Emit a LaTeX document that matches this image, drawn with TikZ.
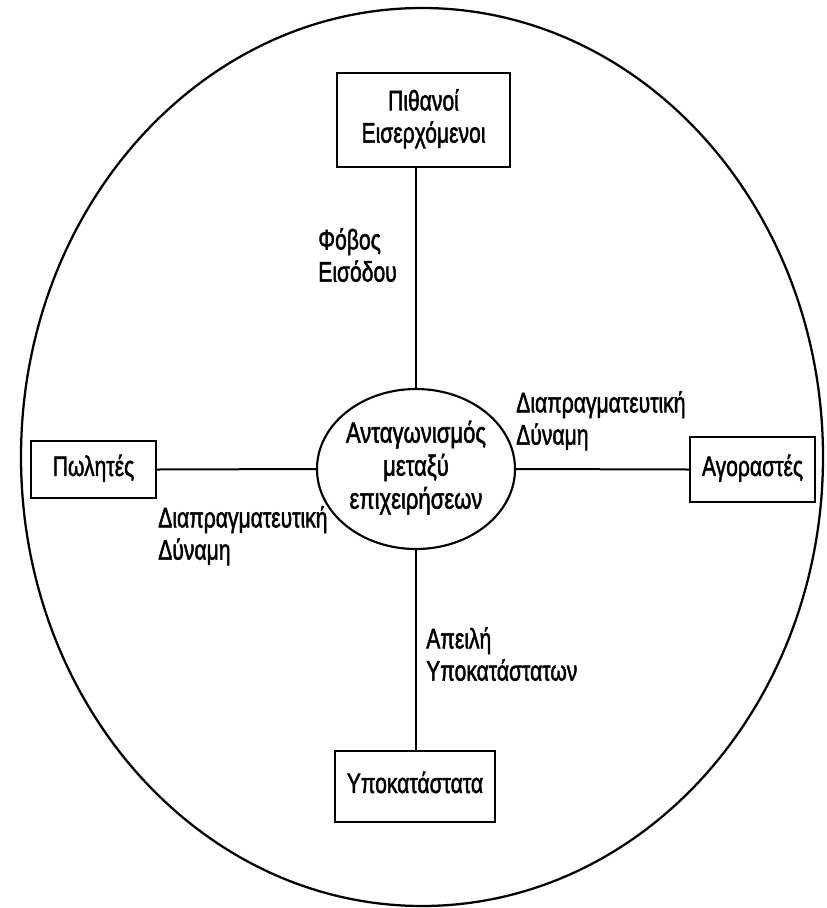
\documentclass[tikz,border=0pt]{standalone}
\usepackage{fontspec}
\setmainfont{Liberation Sans}[FakeBold=2]
\newfontfamily\tf{Liberation Sans}[FakeBold=2]
\usepackage{graphicx}
\usetikzlibrary{shapes.geometric}
\newcommand{\sq}[1]{\scalebox{0.86}[1.15]{\begin{tabular}{@{}c@{}}#1\end{tabular}}}
\newcommand{\sqc}[1]{\scalebox{0.9}[1.18]{\begin{tabular}{@{}c@{}}#1\end{tabular}}}
\newcommand{\sql}[1]{\scalebox{0.86}[1.15]{\begin{tabular}{@{}l@{}}#1\end{tabular}}}
\begin{document}
\begin{tikzpicture}[x=0.75pt,y=-0.75pt,
  every node/.style={font=\tf\fontsize{18.4pt}{21pt}\selectfont},
  box/.style={draw=black,line width=1.6pt,rectangle,inner sep=0pt},
  oval/.style={draw=black,line width=1.6pt,ellipse,inner sep=0pt},
  lbl/.style={anchor=west,inner sep=0pt},
  conn/.style={draw=black,line width=1.5pt}]
\useasboundingbox (0,0) rectangle (826,908);
\draw[line width=1.7pt] (422,457) ellipse [x radius=401*0.75pt, y radius=449*0.75pt];
\node[box,minimum width=129.75pt,minimum height=70.5pt] (top) at (423.5,120) {\sq{Πιθανοί\\Εισερχόμενοι}};
\node[box,minimum width=93.75pt,minimum height=42.75pt] (left) at (93.5,469.5) {\sq{Πωλητές}};
\node[box,minimum width=93.75pt,minimum height=48.75pt] (right) at (752.5,469.5) {\sq{Αγοραστές}};
\node[box,minimum width=120pt,minimum height=53.25pt] (bot) at (415,786.5) {\sq{Υποκατάστατα}};
\node[oval,minimum width=136.5pt,minimum height=120pt] (c) at (416,469) {\sqc{Ανταγωνισμός\\μεταξύ\\επιχειρήσεων}};
\draw[conn] (c.north) -- (c.north |- top.south);
\draw[conn] (c.south) -- (c.south |- bot.north);
\draw[conn] (c.west) -- (left.east);
\draw[conn] (c.east) -- (right.west);
\node[lbl] (l1) at (318,259) {\sql{Φόβος\\Εισόδου}};
\node[lbl] (l2) at (516,422) {\sql{Διαπραγματευτική\\Δύναμη}};
\node[lbl] (l3) at (158,537) {\sql{Διαπραγματευτική\\Δύναμη}};
\node[lbl] (l4) at (426,658) {\sql{Απειλή\\Υποκατάστατων}};
\end{tikzpicture}
\end{document}
